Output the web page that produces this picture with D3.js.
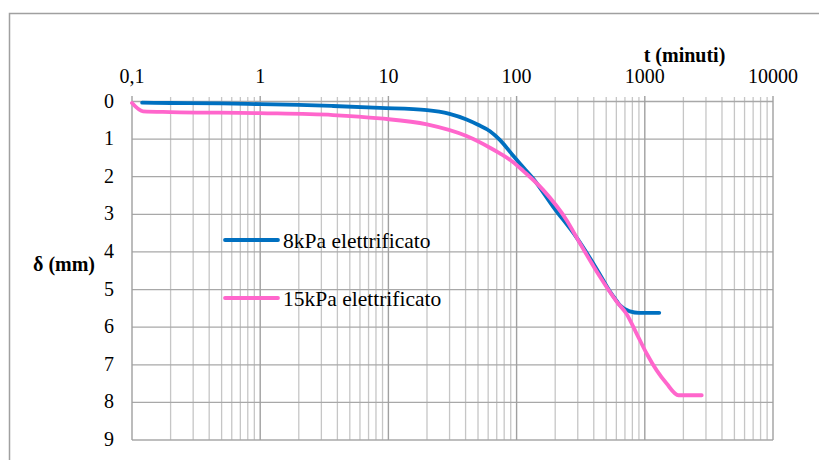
<!DOCTYPE html>
<html>
<head>
<meta charset="utf-8">
<script src="https://cdn.jsdelivr.net/npm/d3@7"></script>
<style>
  body { margin: 0; background: #fff; }
  svg { display: block; }
</style>
</head>
<body>
<div id="chart"></div>
<script>
// data
var xTicks = [0.1, 1, 10, 100, 1000, 10000];
var xTickLabels = ["0,1", "1", "10", "100", "1000", "10000"];
var yTicks = [0, 1, 2, 3, 4, 5, 6, 7, 8, 9];

var t8 = [0.12, 0.2, 0.5, 1, 2, 3.7, 8.6, 20, 30, 40.7, 50, 62, 74, 93, 106, 134, 193, 294, 421, 535, 603, 640, 766, 900, 1297];
var d8 = [0.03, 0.04, 0.05, 0.07, 0.09, 0.12, 0.17, 0.23, 0.33, 0.48, 0.62, 0.79, 1.02, 1.42, 1.65, 2.04, 2.8, 3.62, 4.45, 5.05, 5.3, 5.42, 5.58, 5.62, 5.62];

var t15 = [0.1, 0.122, 0.2, 1, 3.7, 8.6, 20, 40.7, 62, 74, 93, 113, 161, 245, 312, 447, 603, 721, 863, 1033, 1238, 1480, 1828, 2780];
var d15 = [0.04, 0.26, 0.28, 0.31, 0.36, 0.45, 0.61, 0.92, 1.23, 1.38, 1.6, 1.85, 2.35, 3.15, 3.77, 4.66, 5.32, 5.65, 6.17, 6.7, 7.15, 7.5, 7.81, 7.81];

var seriesNames = ["8kPa elettrificato", "15kPa elettrificato"];
var seriesColors = ["#0070c0", "#ff66cc"];

var W = 819, H = 460;
var font = "'Liberation Serif', 'Times New Roman', Times, serif";

var svg = d3.select("#chart").append("svg")
  .attr("width", W).attr("height", H)
  .attr("font-family", font);

// outer chart frame
svg.append("rect")
  .attr("x", 9.5).attr("y", 13.5)
  .attr("width", W + 10).attr("height", H + 10)
  .attr("fill", "none").attr("stroke", "#a0a0a0").attr("stroke-width", 1.5);

var x = d3.scaleLog().domain([0.1, 10000]).range([132, 773]);
var y = d3.scaleLinear().domain([0, 9]).range([101.5, 440]);

// vertical grid, minor then major
var minors = [];
for (var e = -1; e < 4; e++) {
  for (var k = 2; k < 10; k++) minors.push(k * Math.pow(10, e));
}
var g = svg.append("g");
g.selectAll("line.minor").data(minors).enter().append("line")
  .attr("class", "minor")
  .attr("x1", function(d){ return x(d); }).attr("x2", function(d){ return x(d); })
  .attr("y1", 97).attr("y2", y(9))
  .attr("stroke", "#c6c6c6").attr("stroke-width", 1.3);

// horizontal grid
g.selectAll("line.h").data(yTicks).enter().append("line")
  .attr("class", "h")
  .attr("x1", x(0.1)).attr("x2", x(10000))
  .attr("y1", function(d){ return y(d); }).attr("y2", function(d){ return y(d); })
  .attr("stroke", "#a8a8a8").attr("stroke-width", 1.3);

g.selectAll("line.major").data(xTicks).enter().append("line")
  .attr("class", "major")
  .attr("x1", function(d){ return x(d); }).attr("x2", function(d){ return x(d); })
  .attr("y1", 96).attr("y2", y(9))
  .attr("stroke", "#a0a0a0").attr("stroke-width", 1.4);

// tick labels
svg.selectAll("text.xt").data(xTicks).enter().append("text")
  .attr("class", "xt")
  .attr("x", function(d){ return x(d); }).attr("y", 83)
  .attr("text-anchor", "middle").attr("font-size", 20)
  .text(function(d, i){ return xTickLabels[i]; });

svg.selectAll("text.yt").data(yTicks).enter().append("text")
  .attr("class", "yt")
  .attr("x", 114).attr("y", function(d){ return y(d) + 6; })
  .attr("text-anchor", "end").attr("font-size", 20)
  .text(function(d){ return d; });

// axis titles
svg.append("text").attr("x", 684.5).attr("y", 62)
  .attr("text-anchor", "middle").attr("font-size", 20).attr("font-weight", "bold")
  .text("t (minuti)");
svg.append("text").attr("x", 33).attr("y", 271)
  .attr("font-size", 20).attr("font-weight", "bold")
  .text("δ (mm)");

// series
var line = d3.line()
  .x(function(d){ return x(d[0]); })
  .y(function(d){ return y(d[1]); })
  .curve(d3.curveMonotoneX);

var series = [d3.zip(t8, d8), d3.zip(t15, d15)];
svg.selectAll("path.s").data(series).enter().append("path")
  .attr("class", "s")
  .attr("d", line)
  .attr("fill", "none")
  .attr("stroke", function(d, i){ return seriesColors[i]; })
  .attr("stroke-width", 3.8)
  .attr("stroke-linecap", "round")
  .attr("stroke-linejoin", "round");

// legend
var legY = [240, 298];
var leg = svg.selectAll("g.leg").data(seriesNames).enter().append("g")
  .attr("class", "leg")
  .attr("transform", function(d, i){ return "translate(225," + legY[i] + ")"; });
leg.append("line")
  .attr("x1", 0).attr("x2", 53).attr("y1", 0).attr("y2", 0)
  .attr("stroke", function(d, i){ return seriesColors[i]; })
  .attr("stroke-width", 3.8).attr("stroke-linecap", "round");
leg.append("text")
  .attr("x", 58).attr("y", 7.5).attr("font-size", 21.5)
  .text(function(d){ return d; });
</script>
</body>
</html>
